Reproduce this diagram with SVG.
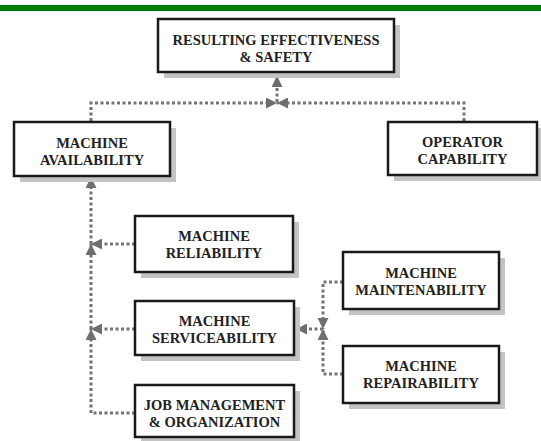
<svg xmlns="http://www.w3.org/2000/svg" width="541" height="441" viewBox="0 0 541 441">
<style>
.shadow{fill:#c4c4c4}
.box{fill:#fff;stroke:#1a1a1a;stroke-width:2.5}
.t{font-family:"Liberation Serif","Times New Roman",serif;font-weight:bold;font-size:14.5px;fill:#222;text-anchor:middle}
.c{fill:none;stroke:#737373;stroke-width:3;stroke-dasharray:3 2.5}
</style>
<defs>
<marker id="ah" markerUnits="userSpaceOnUse" markerWidth="11" markerHeight="11" viewBox="0 0 10 10" refX="10" refY="5" orient="auto">
<path d="M0,0 L10,5 L0,10 Z" fill="#6e6e6e"/>
</marker>
</defs>
<rect x="0" y="5" width="541" height="6" fill="#007a00"/>
<g id="connectors">
<path class="c" d="M91,121 V103 H277" marker-end="url(#ah)"/>
<path class="c" d="M464,121 V103 H277" marker-end="url(#ah)"/>
<path class="c" d="M277,102 V76" marker-end="url(#ah)"/>
<path class="c" d="M135,413 H91 V329" marker-end="url(#ah)"/>
<path class="c" d="M135,329 H91" marker-end="url(#ah)"/>
<path class="c" d="M91,329 V244" marker-end="url(#ah)"/>
<path class="c" d="M135,244 H91" marker-end="url(#ah)"/>
<path class="c" d="M91,244 V177" marker-end="url(#ah)"/>
<path class="c" d="M343,282 H323 V329" marker-end="url(#ah)"/>
<path class="c" d="M343,374 H323 V329" marker-end="url(#ah)"/>
<path class="c" d="M323,329 H296" marker-end="url(#ah)"/>
</g>
<g id="n-result">
<rect class="shadow" x="164" y="25" width="236" height="53"/>
<rect class="box" x="158" y="19" width="236" height="53"/>
<text class="t" x="276" y="45">RESULTING EFFECTIVENESS</text>
<text class="t" x="276" y="62">&amp; SAFETY</text>
</g>
<g id="n-availability">
<rect class="shadow" x="20" y="128" width="156" height="54"/>
<rect class="box" x="14" y="122" width="156" height="54"/>
<text class="t" x="92" y="148">MACHINE</text>
<text class="t" x="92" y="165">AVAILABILITY</text>
</g>
<g id="n-operator">
<rect class="shadow" x="394" y="128" width="149" height="53"/>
<rect class="box" x="388" y="122" width="149" height="53"/>
<text class="t" x="462.5" y="147">OPERATOR</text>
<text class="t" x="462.5" y="164">CAPABILITY</text>
</g>
<g id="n-reliability">
<rect class="shadow" x="141" y="222" width="158" height="56"/>
<rect class="box" x="135" y="216" width="158" height="56"/>
<text class="t" x="214" y="241">MACHINE</text>
<text class="t" x="214" y="258">RELIABILITY</text>
</g>
<g id="n-serviceability">
<rect class="shadow" x="141" y="307" width="159" height="54"/>
<rect class="box" x="135" y="301" width="159" height="54"/>
<text class="t" x="214.5" y="326">MACHINE</text>
<text class="t" x="214.5" y="343">SERVICEABILITY</text>
</g>
<g id="n-job">
<rect class="shadow" x="141" y="391" width="159" height="52"/>
<rect class="box" x="135" y="385" width="159" height="52"/>
<text class="t" x="214.5" y="410">JOB MANAGEMENT</text>
<text class="t" x="214.5" y="427">&amp; ORGANIZATION</text>
</g>
<g id="n-maintainability">
<rect class="shadow" x="349" y="258" width="156" height="57"/>
<rect class="box" x="343" y="252" width="156" height="57"/>
<text class="t" x="421" y="278">MACHINE</text>
<text class="t" x="421" y="295">MAINTENABILITY</text>
</g>
<g id="n-repairability">
<rect class="shadow" x="349" y="352" width="156" height="57"/>
<rect class="box" x="343" y="346" width="156" height="57"/>
<text class="t" x="421" y="371">MACHINE</text>
<text class="t" x="421" y="388">REPAIRABILITY</text>
</g>
</svg>
